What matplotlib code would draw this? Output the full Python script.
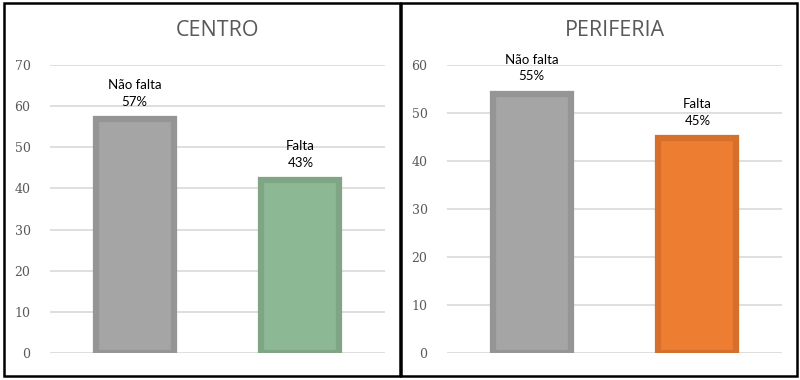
import matplotlib
matplotlib.use("Agg")
import matplotlib.pyplot as plt
from matplotlib.patches import Rectangle

categories = ["Não falta", "Falta"]
centro_values = [56.8, 42.0]
centro_labels = ["57%", "43%"]
periferia_values = [54.0, 44.7]
periferia_labels = ["55%", "45%"]

panels = [
    ("CENTRO", centro_values, centro_labels, 70, ["#A5A5A5", "#8CB894"], ["#959595", "#7FA585"]),
    ("PERIFERIA", periferia_values, periferia_labels, 60, ["#A5A5A5", "#ED7D31"], ["#959595", "#D66F2C"]),
]

fig = plt.figure(figsize=(8, 3.8), dpi=100)
W, H = 800, 380

# rahmen um beide diagramme
for x0 in (4, 401):
    fig.patches.append(Rectangle((x0 / W, 4 / H), 396 / W, 373 / H, transform=fig.transFigure,
                                 fill=False, edgecolor="#000000", linewidth=1.8))

ax_left = [50, 447]
for i, (title, vals, labs, ymax, fills, edges) in enumerate(panels):
    left = ax_left[i] / W
    ax = fig.add_axes([left, 27 / H, 335 / W, 288 / H])
    x = range(len(categories))
    ax.bar(x, vals, width=0.47, color=fills, edgecolor=edges, linewidth=4.5, zorder=3)
    for xi, v, cat, lab in zip(x, vals, categories, labs):
        ax.text(xi, v + ymax * 0.04, f"{cat}\n{lab}", ha="center", va="bottom",
                fontsize=9.5, family="Lato", color="#000000", linespacing=1.45)
    ax.set_xlim(-0.51, 1.51)
    ax.set_ylim(0, ymax)
    ax.set_yticks(range(0, ymax + 1, 10))
    ax.set_xticks([])
    ax.grid(axis="y", color="#D9D9D9", linewidth=1.2, zorder=0)
    for s in ax.spines.values():
        s.set_visible(False)
    ax.tick_params(axis="y", length=0, pad=14, labelsize=9, labelcolor="#595959")
    for t in ax.get_yticklabels():
        t.set_family("DejaVu Serif")
    cx = (ax_left[i] + 335 / 2) / W
    fig.text(cx, (H - 31) / H, title, ha="center", va="center", fontsize=15.5,
             color="#595959", family="Open Sans")

fig.savefig("out.png", dpi=100)
